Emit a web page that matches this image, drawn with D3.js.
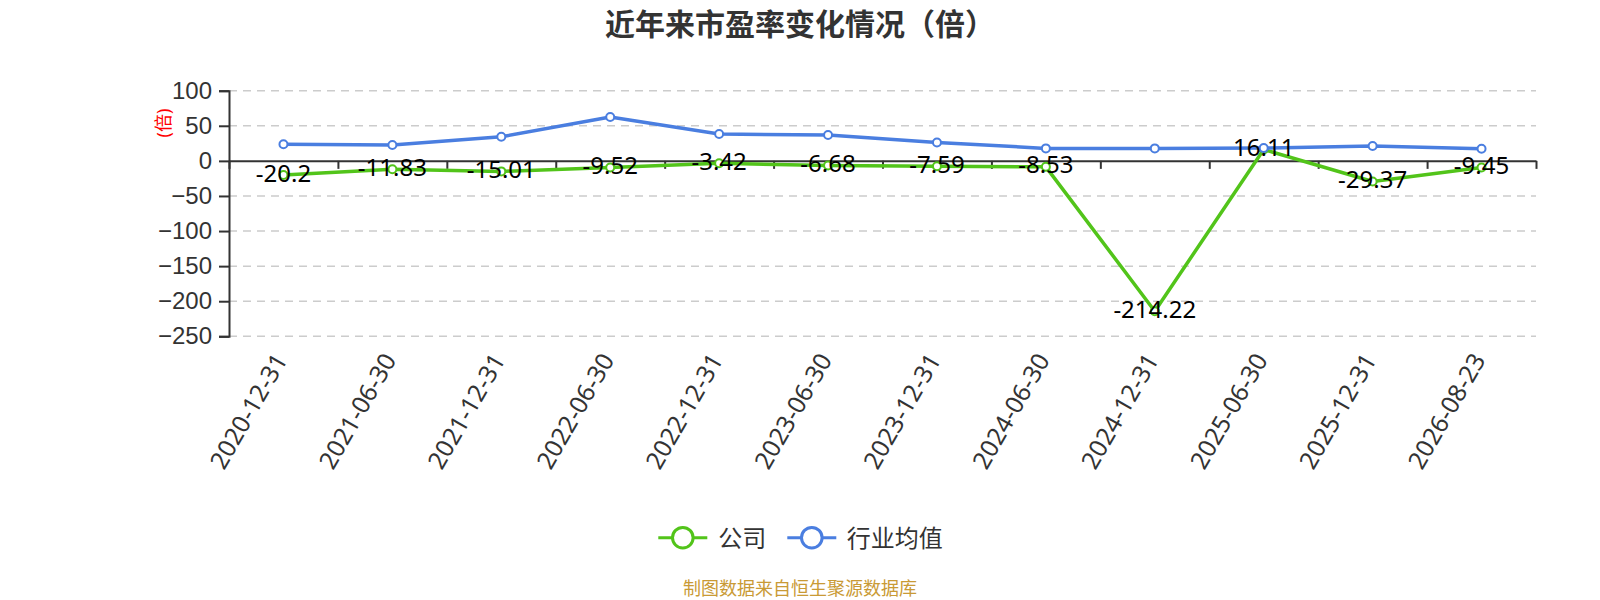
<!DOCTYPE html>
<html><head><meta charset="utf-8">
<script src="https://cdn.jsdelivr.net/npm/d3@7/dist/d3.min.js"></script>
<style>
body{margin:0;background:#fff;}
svg{display:block;font-family:"Noto Sans","Noto Sans CJK SC",sans-serif;}
</style></head>
<body><svg id="c" width="1600" height="600"></svg>
<script>
const categories = ["2020-12-31","2021-06-30","2021-12-31","2022-06-30","2022-12-31","2023-06-30","2023-12-31","2024-06-30","2024-12-31","2025-06-30","2025-12-31","2026-08-23"];
const company = [-20.2,-11.83,-15.01,-9.52,-3.42,-6.68,-7.59,-8.53,-214.22,16.11,-29.37,-9.45];
const industry = [23.7,22.5,34.4,62.4,38.2,36.8,26.3,17.8,17.8,18.2,21.1,17.3];
const yTicks = [-250,-200,-150,-100,-50,0,50,100];
const seriesNames = ["公司","行业均值"];
const colors = ["#52c41a","#4a7ee0"];

const svg = d3.select("#c");
const L=229, R=1536, T=90.7, B=336.3;
const x = d3.scaleBand().domain(categories).range([L,R]);
const y = d3.scaleLinear().domain([-250,100]).range([B,T]);
const cx = c => x(c) + x.bandwidth()/2;

// title
svg.append("text").attr("x",800).attr("y",23).attr("text-anchor","middle")
  .attr("dominant-baseline","central").attr("font-size",30).attr("font-weight","bold")
  .attr("fill","#333").text("近年来市盈率变化情况（倍）");

// grid lines
svg.append("g").selectAll("line").data(yTicks.filter(v=>v!==0)).join("line")
  .attr("x1",L).attr("x2",R).attr("y1",d=>y(d)).attr("y2",d=>y(d))
  .attr("stroke","#cccccc").attr("stroke-width",1.5).attr("stroke-dasharray","8,6");

// y axis
const ya = svg.append("g").attr("transform",`translate(${L},0)`)
  .call(d3.axisLeft(y).tickValues(yTicks).tickSize(10).tickPadding(7));
ya.select(".domain").attr("stroke","#333").attr("stroke-width",2);
ya.selectAll(".tick line").attr("stroke","#333").attr("stroke-width",2);
ya.selectAll(".tick text").attr("font-size",24).attr("fill","#333").attr("font-family",null);

// axis name
svg.append("text").attr("transform","translate(163,123) rotate(-90)")
  .attr("text-anchor","middle").attr("dominant-baseline","central")
  .attr("font-size",18).attr("fill","#ff0000").text("(倍)");

// x axis at zero
const bIdx = d3.scaleLinear().domain([0,categories.length]).range([L,R]);
const xa = svg.append("g").attr("transform",`translate(0,${y(0)})`)
  .call(d3.axisBottom(bIdx).tickValues(d3.range(categories.length+1)).tickFormat("").tickSize(8).tickSizeOuter(0));
xa.select(".domain").attr("stroke","#333").attr("stroke-width",2);
xa.selectAll(".tick line").attr("stroke","#333").attr("stroke-width",2);

// x labels at bottom
svg.append("g").selectAll("text").data(categories).join("text")
  .attr("transform",d=>`translate(${cx(d)-3.5},355) rotate(-60)`)
  .attr("text-anchor","end").attr("dominant-baseline","central")
  .attr("font-size",24.6).attr("fill","#333").text(d=>d);

// lines
const data = [company, industry];
data.forEach((vals,i)=>{
  const pts = vals.map((v,j)=>[cx(categories[j]), y(v)]);
  svg.append("path").attr("d",d3.line()(pts)).attr("fill","none")
    .attr("stroke",colors[i]).attr("stroke-width",3.5).attr("stroke-linejoin","round");
  svg.append("g").selectAll("circle").data(pts).join("circle")
    .attr("cx",d=>d[0]).attr("cy",d=>d[1]).attr("r",4)
    .attr("fill","#fff").attr("stroke",colors[i]).attr("stroke-width",2);
});

// company labels
svg.append("g").selectAll("text").data(company).join("text")
  .attr("x",(d,j)=>cx(categories[j])).attr("y",d=>y(d)-3)
  .attr("text-anchor","middle").attr("dominant-baseline","central")
  .attr("font-size",24).attr("fill","#000").text(d=>d);

// legend
const legY = 537.7;
const leg = [{x:658.3, tx:718.3},{x:787.3, tx:846.7}];
leg.forEach((p,i)=>{
  svg.append("line").attr("x1",p.x).attr("x2",p.x+49).attr("y1",legY).attr("y2",legY)
    .attr("stroke",colors[i]).attr("stroke-width",3);
  svg.append("circle").attr("cx",p.x+24.5).attr("cy",legY).attr("r",10.3)
    .attr("fill","#fff").attr("stroke",colors[i]).attr("stroke-width",3);
  svg.append("text").attr("x",p.tx).attr("y",legY).attr("dominant-baseline","central")
    .attr("font-size",24).attr("fill","#333").text(seriesNames[i]);
});

// source
svg.append("text").attr("x",800).attr("y",588).attr("text-anchor","middle")
  .attr("dominant-baseline","central").attr("font-size",18).attr("fill","#c99a35")
  .text("制图数据来自恒生聚源数据库");
</script></body></html>
